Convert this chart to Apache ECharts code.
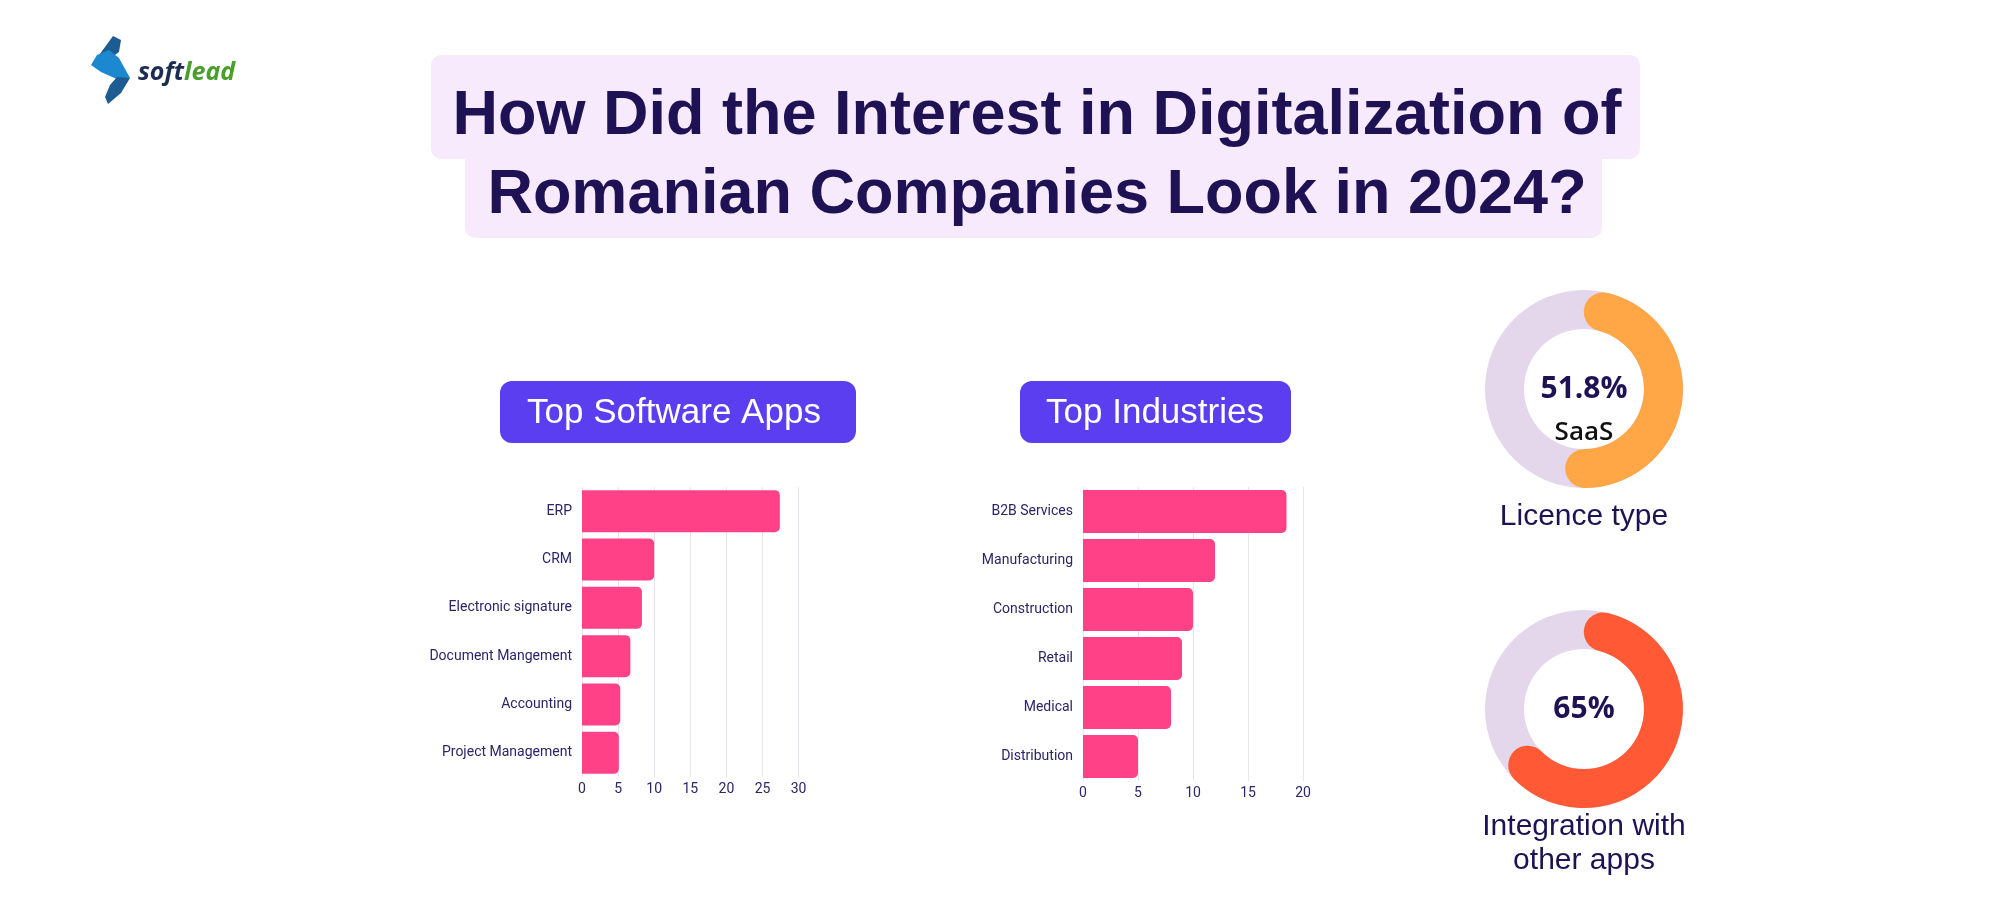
<!DOCTYPE html>
<html>
<head>
<meta charset="utf-8">
<script src="https://cdn.jsdelivr.net/npm/echarts@6/dist/echarts.min.js"></script>
<style>
html,body{margin:0;padding:0;background:#fff;}
#chart{width:2000px;height:900px;}
</style>
</head>
<body>
<div id="chart"></div>
<script>
// ---- data ----
const appCategories = ['ERP', 'CRM', 'Electronic signature', 'Document Mangement', 'Accounting', 'Project Management'];
const appValues = [27.4, 10, 8.3, 6.7, 5.3, 5.1];
const industryCategories = ['B2B Services', 'Manufacturing', 'Construction', 'Retail', 'Medical', 'Distribution'];
const industryValues = [18.5, 12, 10, 9, 8, 5];
const licenceValue = 51.8;
const licenceName = 'SaaS';
const integrationValue = 65;

const titleLines = ['How Did the Interest in Digitalization of', 'Romanian Companies Look in 2024?'];
const panelTitles = ['Top Software Apps', 'Top Industries'];
const donutCaptions = ['Licence type', 'Integration with\nother apps'];

// ---- styles ----
const NAVY = '#1e1254';
const LABEL = '#2b2466';
const BAR = '#ff4287';
const PILL = '#5a3ef0';
const RING_BG = '#e4d6eb';

const chart = echarts.init(document.getElementById('chart'), null, {renderer: 'canvas'});

function barAxes(gridIndex, cats, max) {
  return {
    x: {
      type: 'value', gridIndex: gridIndex, min: 0, max: max, interval: 5,
      axisLine: {show: false}, axisTick: {show: false},
      axisLabel: {color: LABEL, fontSize: 14, fontFamily: 'Roboto', margin: 5},
      splitLine: {show: true, lineStyle: {color: '#e6e6ef', width: 1}}
    },
    y: {
      type: 'category', gridIndex: gridIndex, data: cats, inverse: true,
      axisLine: {show: false}, axisTick: {show: false},
      axisLabel: {color: LABEL, fontSize: 14, fontFamily: 'Roboto', margin: 10},
      splitLine: {show: false}
    }
  };
}
const a1 = barAxes(0, appCategories, 30);
const a2 = barAxes(1, industryCategories, 20);

// Round caps in the reference stay inside the arc's angle; ECharts draws them
// centred on the ends, so the value gauge is shifted by one half-cap angle.
const CAP_DEG = 14.05;
const capMin = CAP_DEG / 3.6;

function ringBg(center) {
  return {
    type: 'gauge', center: center, radius: 99, startAngle: 90, endAngle: -270,
    min: 0, max: 100, silent: true, z: 1,
    pointer: {show: false}, axisTick: {show: false}, splitLine: {show: false}, axisLabel: {show: false},
    progress: {show: false}, detail: {show: false}, title: {show: false},
    axisLine: {lineStyle: {width: 39, color: [[1, RING_BG]]}},
    data: []
  };
}
function ringValue(center, value, name, color, showTitle) {
  return {
    type: 'gauge', center: center, radius: 99, startAngle: 90 - CAP_DEG, endAngle: 90 - CAP_DEG - (360 - 2 * CAP_DEG),
    min: capMin, max: 100, z: 2,
    pointer: {show: false}, axisTick: {show: false}, splitLine: {show: false}, axisLabel: {show: false},
    axisLine: {show: false},
    progress: {show: true, roundCap: true, width: 39, itemStyle: {color: color}},
    detail: {
      valueAnimation: false, offsetCenter: [0, 0], formatter: '{value}%',
      color: NAVY, fontSize: 30, fontWeight: 'bold', fontFamily: 'Open Sans'
    },
    title: {
      show: showTitle, offsetCenter: [0, 44], color: '#111111', fontSize: 26,
      fontWeight: 600, fontFamily: 'Open Sans'
    },
    data: [{value: value, name: name}]
  };
}

const logoDark = '#1d5c90';
const logoLight = '#1b88d0';

const option = {
  backgroundColor: '#ffffff',
  animation: false,
  grid: [
    {left: 582, top: 487, width: 216.6, height: 290, containLabel: false},
    {left: 1083, top: 487, width: 220, height: 294, containLabel: false}
  ],
  xAxis: [a1.x, a2.x],
  yAxis: [a1.y, a2.y],
  series: [
    {
      type: 'bar', xAxisIndex: 0, yAxisIndex: 0, data: appValues, barCategoryGap: '13%',
      itemStyle: {color: BAR, borderRadius: [0, 5, 5, 0]}, silent: true
    },
    {
      type: 'bar', xAxisIndex: 1, yAxisIndex: 1, data: industryValues, barCategoryGap: '12.4%',
      itemStyle: {color: BAR, borderRadius: [0, 5, 5, 0]}, silent: true
    },
    ringBg([1584, 389]),
    ringValue([1584, 389], licenceValue, licenceName, '#ffa647', true),
    ringBg([1584, 709]),
    ringValue([1584, 709], integrationValue, '', '#ff5a35', false)
  ],
  graphic: [
    // title highlight boxes
    {type: 'rect', shape: {x: 431, y: 55, width: 1209, height: 104, r: 10}, style: {fill: '#f8eafd'}, z: 0},
    {type: 'rect', shape: {x: 465, y: 140, width: 1137, height: 98, r: 10}, style: {fill: '#f8eafd'}, z: 0},
    {type: 'text', x: 1037, y: 117, z: 1, style: {text: titleLines[0], fill: NAVY, font: 'bold 63px "Liberation Sans", Arial, sans-serif', align: 'center', verticalAlign: 'middle'}},
    {type: 'text', x: 1037, y: 196, z: 1, style: {text: titleLines[1], fill: NAVY, font: 'bold 63px "Liberation Sans", Arial, sans-serif', align: 'center', verticalAlign: 'middle'}},
    // panel pills
    {type: 'rect', shape: {x: 500, y: 381, width: 356, height: 62, r: 12}, style: {fill: PILL}},
    {type: 'text', x: 674, y: 413, z: 2, style: {text: panelTitles[0], fill: '#ffffff', font: '35px "Liberation Sans", Arial, sans-serif', align: 'center', verticalAlign: 'middle'}},
    {type: 'rect', shape: {x: 1020, y: 381, width: 271, height: 62, r: 12}, style: {fill: PILL}},
    {type: 'text', x: 1155, y: 413, z: 2, style: {text: panelTitles[1], fill: '#ffffff', font: '35px "Liberation Sans", Arial, sans-serif', align: 'center', verticalAlign: 'middle'}},
    // donut captions
    {type: 'text', x: 1584, y: 517, style: {text: donutCaptions[0], fill: NAVY, font: '30px "Liberation Sans", Arial, sans-serif', align: 'center', verticalAlign: 'middle'}},
    {type: 'text', x: 1584, y: 844, style: {text: donutCaptions[1], fill: NAVY, font: '30px "Liberation Sans", Arial, sans-serif', align: 'center', verticalAlign: 'middle', lineHeight: 34}},
    // logo
    {type: 'polygon', shape: {points: [[113, 36], [121, 40], [119, 52], [108, 60], [97, 58]]}, style: {fill: logoDark}},
    {type: 'polygon', shape: {points: [[97, 55], [109, 50], [119, 58], [130, 78], [119, 80], [101, 72], [91, 65]]}, style: {fill: logoLight}},
    {type: 'polygon', shape: {points: [[117, 77], [130, 78], [121, 93], [108, 104], [105, 97], [110, 85]]}, style: {fill: logoDark}},
    {type: 'text', x: 138, y: 73, style: {
      text: '{a|soft}{b|lead}', verticalAlign: 'middle', align: 'left',
      rich: {
        a: {fill: '#1d2d52', font: 'italic bold 25px "Open Sans", sans-serif'},
        b: {fill: '#4a9e2b', font: 'italic bold 25px "Open Sans", sans-serif'}
      }
    }}
  ]
};
chart.setOption(option);
</script>
</body>
</html>
